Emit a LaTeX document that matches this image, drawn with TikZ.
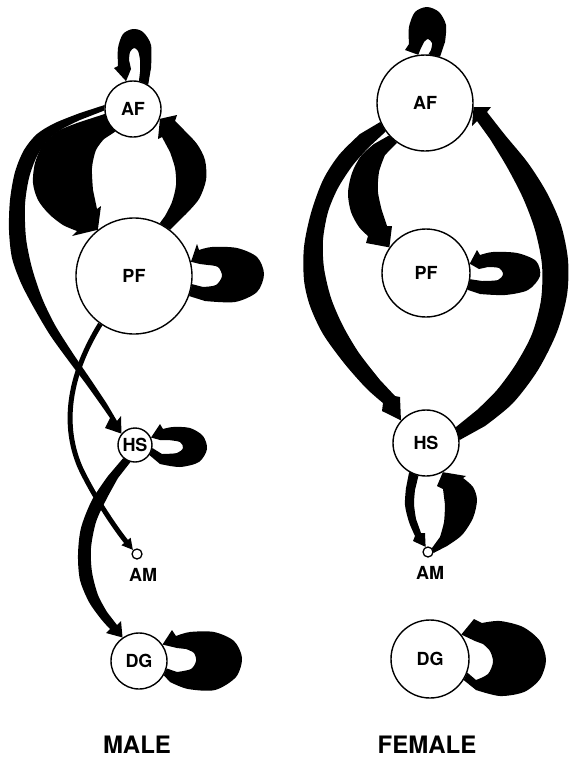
\documentclass[tikz,border=0pt]{standalone}
\usepackage{fontspec}
\setmainfont{TeX Gyre Heros}
\usetikzlibrary{backgrounds,arrows.meta}
\begin{document}
\begin{tikzpicture}[x=1pt,y=-1pt,
  state/.style={circle,draw,line width=1.4pt,fill=white,inner sep=0pt,
    font=\fontsize{18}{18}\selectfont\bfseries},
  tiny/.style={circle,draw,line width=1.3pt,fill=white,inner sep=0pt,minimum size=10pt},
  tag/.style={inner sep=0pt,font=\fontsize{18}{18}\selectfont\bfseries},
  title/.style={inner sep=0pt,font=\fontsize{24}{24}\selectfont\bfseries},
  flow/.style={fill=black},
  thinflow/.style={draw=black,line width=5pt,-{Triangle[length=11pt,width=11pt]}},
]
\useasboundingbox (0,0) rectangle (570,758);

% ---------- male compartments ----------
\node[state,minimum size=56pt]  (mAF) at (133,109) {AF};
\node[state,minimum size=116pt] (mPF) at (134,276) {PF};
\node[state,minimum size=34pt]  (mHS) at (135,445) {HS};
\node[tiny]                     (mAM) at (137,554) {};
\node[tag]                      (mAMt) at (143,575) {AM};
\node[state,minimum size=56pt]  (mDG) at (139,661) {DG};
\node[title] (male) at (137,745) {MALE};

% ---------- female compartments ----------
\node[state,minimum size=96pt]  (fAF) at (425,103) {AF};
\node[state,minimum size=88pt]  (fPF) at (426,273) {PF};
\node[state,minimum size=66pt]  (fHS) at (426,443) {HS};
\node[tiny]                     (fAM) at (428,552) {};
\node[tag]                      (fAMt) at (430,573) {AM};
\node[state,minimum size=78pt]  (fDG) at (430,659) {DG};
\node[title] (female) at (427,745) {FEMALE};

\begin{pgfonlayer}{background}
\fill[white] (0,0) rectangle (570,758);

% ===== male fluxes =====
% AF self loop
\fill[flow] (mAF.58) -- plot[smooth] coordinates {(151,68) (151,45) (143,32) (133,29) (123,34) (118,48) (118,66)}
  -- (114,68) -- (mAF.104) -- (131,69)
  -- plot[smooth] coordinates {(129,60) (130,52) (134,48) (138,51) (140,60) (140,72)} -- (mAF.78) -- cycle;
% PF self loop
\fill[flow] (mPF.-20) -- plot[smooth] coordinates {(205,301) (235,302) (257,292) (264,274) (257,257) (237,248) (212,247) (199,250)}
  -- (197,244) -- (mPF.14) -- (200,264)
  -- plot[smooth] coordinates {(208,265) (218,267) (222,276) (216,285) (203,287)} -- (mPF.-8) -- cycle;
% HS self loop
\fill[flow] (mHS.-35) -- plot[smooth] coordinates {(160,464) (180,467) (199,462) (207,449) (203,436) (190,428) (173,427) (163,429)}
  -- (160,424) -- (mHS.25) -- (160,440)
  -- plot[smooth] coordinates {(168,440) (180,442) (183,448) (177,453) (162,454)} -- (mHS.-10) -- cycle;
% DG self loop
\fill[flow] (mDG.-30) -- plot[smooth] coordinates {(170,682) (188,689) (215,690) (236,677) (242,658) (234,641) (214,632) (190,632) (176,636)}
  -- (172,630) -- (mDG.35) -- (177,648)
  -- plot[smooth] coordinates {(186,649) (194,653) (196,661) (191,669) (177,672)} -- (mDG.-15) -- cycle;
% AF -> PF
\fill[flow] (mAF.190) -- plot[smooth] coordinates {(80,122) (58,131) (43,145) (35,163) (33,183) (38,200) (49,214) (63,225) (77,231)}
  -- (72,236) -- (mPF.128) -- (101,206) -- (97,209)
  -- plot[smooth] coordinates {(93,190) (92,168) (96,150) (104,139)} -- (mAF.232) -- cycle;
% PF -> AF
\fill[flow] (mPF.52) -- plot[smooth] coordinates {(186,214) (199,199) (206,180) (205,160) (197,144) (184,130) (175,121)}
  -- (177,115) -- (mAF.-20) -- (158,139) -- (162,137)
  -- plot[smooth] coordinates {(170,152) (175,168) (176,185) (172,202) (165,216)} -- (mPF.64) -- cycle;
% AF -> HS
\fill[flow] (mAF.172) -- plot[smooth] coordinates {(80,113) (55,123) (37,134) (24,150) (15,172) (10,200) (9,230) (12,258) (21,283) (34,308) (50,335) (68,360) (86,384) (101,405) (110,418)}
  -- (105,428) -- (mHS.140) -- (121,416) -- (117,421)
  -- plot[smooth] coordinates {(107,404) (91,380) (72,352) (55,325) (42,298) (32,268) (26,238) (25,205) (29,178) (37,156) (48,140) (62,129) (80,120)}
  -- (mAF.183) -- cycle;
% PF -> AM
\draw[thinflow] (mPF.235) .. controls (72,370) and (60,420) .. (80,467)
  .. controls (93,495) and (115,528) .. (mAM.135);
% HS -> DG
\fill[flow] (mHS.228) -- plot[smooth] coordinates {(108,476) (92,500) (81,528) (78,555) (80,580) (89,602) (101,619) (110,629)}
  -- (106,633) -- (mDG.125) -- (121,621) -- (117,625)
  -- plot[smooth] coordinates {(107,612) (98,595) (92,572) (91,548) (96,522) (106,500) (118,478)} -- (mHS.255) -- cycle;

% ===== female fluxes =====
% AF self loop
\fill[flow] (fAF.72) -- plot[smooth] coordinates {(445,42) (446,25) (439,12) (427,7) (415,12) (409,27) (409,44)}
  -- (405,50) -- (fAF.98) -- (421,48)
  -- plot[smooth] coordinates {(424,42) (428,39) (432,43) (431,50)} -- (fAF.86) -- cycle;
% PF self loop
\fill[flow] (fPF.-22) -- plot[smooth] coordinates {(480,294) (505,295) (528,290) (540,276) (536,261) (517,253) (493,252) (480,255)}
  -- (477,250) -- (fPF.12) -- (479,269)
  -- plot[smooth] coordinates {(488,267) (499,268) (503,274) (498,280) (482,281)} -- (fPF.-8) -- cycle;
% DG self loop
\fill[flow] (fDG.-32) -- plot[smooth] coordinates {(476,690) (500,696) (524,692) (540,679) (546,660) (540,641) (523,627) (500,621) (482,623)}
  -- (474,619) -- (fDG.38) -- (475,641)
  -- plot[smooth] coordinates {(483,644) (490,651) (493,662) (488,674) (476,680)} -- (fDG.-20) -- cycle;
% AF -> HS
\fill[flow] (fAF.203) -- plot[smooth] coordinates {(360,134) (339,155) (323,180) (311,213) (304,247) (304,280) (310,306) (323,334) (344,363) (366,388) (383,403)}
  -- (382,411) -- (fHS.138) -- (400,397) -- (395,396)
  -- plot[smooth] coordinates {(380,380) (359,353) (343,326) (331,298) (324,268) (323,240) (328,212) (338,188) (353,165) (369,147)}
  -- (fAF.216) -- cycle;
% AF -> PF
\fill[flow] (fAF.222) -- plot[smooth] coordinates {(374,144) (361,156) (352,173) (348,193) (351,212) (359,227) (368,236)}
  -- (366,243) -- (fPF.145) -- (392,226) -- (387,226)
  -- plot[smooth] coordinates {(382,211) (378,192) (379,172) (385,155)} -- (fAF.235) -- cycle;
% HS -> AF
\fill[flow] (fHS.5) -- plot[smooth] coordinates {(485,426) (513,403) (538,370) (557,332) (567,295) (568,260) (561,225) (547,193) (528,163) (505,135) (487,112)}
  -- (491,107) -- (fAF.-5) -- (472,126) -- (477,121)
  -- plot[smooth] coordinates {(490,139) (507,167) (523,198) (535,230) (542,265) (541,300) (532,334) (516,364) (497,390) (477,410)}
  -- (fHS.28) -- cycle;
% HS -> AM
\fill[flow] (fHS.240) -- plot[smooth] coordinates {(406,488) (405,505) (409,522) (415,536)}
  -- (413,541) -- (fAM.115) -- (425,533) -- (421,533)
  -- plot[smooth] coordinates {(416,519) (414,504) (415,490)} -- (fHS.257) -- cycle;
% AM -> HS
\fill[flow] (fAM.-10) -- plot[smooth] coordinates {(447,546) (462,535) (473,518) (477,500) (473,487) (463,478)}
  -- (466,476) -- (fHS.-60) -- (437,486) -- (443,489)
  -- plot[smooth] coordinates {(445,505) (444,522) (440,537)} -- (fAM.45) -- cycle;
\end{pgfonlayer}
\end{tikzpicture}
\end{document}
